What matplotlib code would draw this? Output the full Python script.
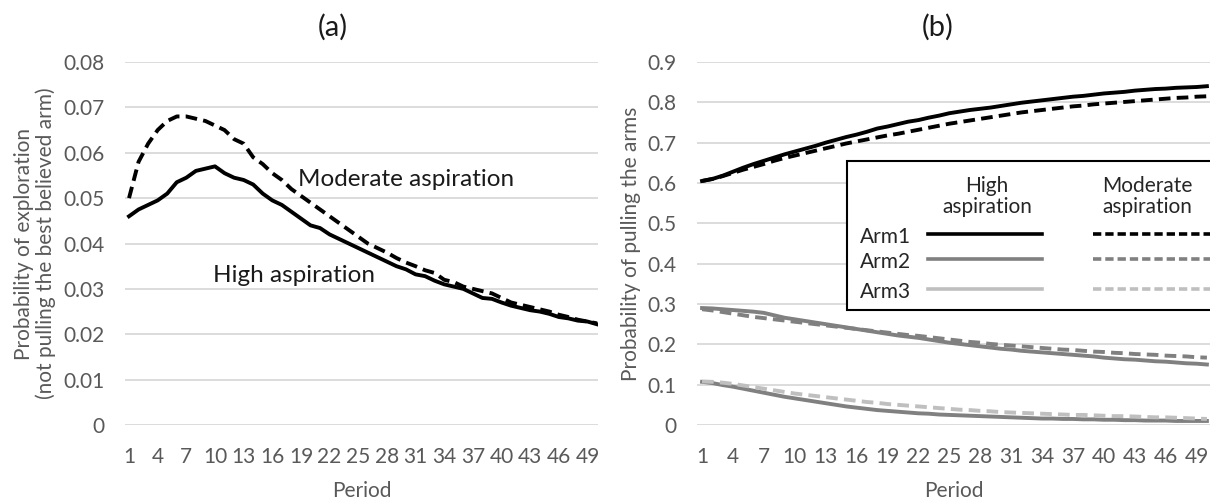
import matplotlib
matplotlib.use("Agg")
import matplotlib.pyplot as plt
from matplotlib.lines import Line2D
from matplotlib.patches import Rectangle

plt.rcParams['font.family'] = ['Lato', 'DejaVu Sans']

periods = list(range(1, 51))
xtick_labels = list(range(1, 50, 3))

# Panel (a): probability of exploration
explore_high = [0.046, 0.0475, 0.0485, 0.0495, 0.051, 0.0535, 0.0545, 0.056, 0.0565, 0.057,
                0.0555, 0.0545, 0.054, 0.053, 0.051, 0.0495, 0.0485, 0.047, 0.0455, 0.044,
                0.0434, 0.042, 0.041, 0.040, 0.039, 0.038, 0.037, 0.036, 0.035, 0.0343,
                0.0332, 0.0328, 0.0318, 0.031, 0.0305, 0.030, 0.029, 0.028, 0.0278, 0.027,
                0.0263, 0.0258, 0.0253, 0.025, 0.0245, 0.0238, 0.0235, 0.023, 0.0228, 0.0222]
explore_moderate = [0.050, 0.058, 0.062, 0.065, 0.067, 0.068, 0.068, 0.0675, 0.067, 0.066,
                    0.065, 0.063, 0.062, 0.059, 0.0575, 0.0555, 0.054, 0.052, 0.0505, 0.049,
                    0.0475, 0.046, 0.0445, 0.043, 0.0415, 0.040, 0.039, 0.038, 0.0368, 0.0358,
                    0.035, 0.0341, 0.0335, 0.032, 0.0315, 0.0305, 0.030, 0.0295, 0.029, 0.028,
                    0.027, 0.0265, 0.026, 0.0255, 0.025, 0.0243, 0.0238, 0.0232, 0.0228, 0.0224]

# Panel (b): probability of pulling the arms
arm1_high = [0.605, 0.610, 0.618, 0.628, 0.638, 0.647, 0.655, 0.663, 0.671, 0.678,
             0.685, 0.692, 0.700, 0.707, 0.714, 0.720, 0.727, 0.735, 0.740, 0.746,
             0.752, 0.756, 0.762, 0.767, 0.773, 0.777, 0.781, 0.784, 0.787, 0.791,
             0.795, 0.799, 0.802, 0.805, 0.808, 0.811, 0.814, 0.816, 0.819, 0.822,
             0.824, 0.826, 0.829, 0.831, 0.833, 0.834, 0.836, 0.837, 0.838, 0.840]
arm1_moderate = [0.605, 0.610, 0.617, 0.625, 0.633, 0.640, 0.647, 0.655, 0.662, 0.668,
                 0.674, 0.680, 0.686, 0.692, 0.698, 0.703, 0.708, 0.713, 0.718, 0.722,
                 0.727, 0.732, 0.737, 0.742, 0.747, 0.751, 0.755, 0.759, 0.763, 0.767,
                 0.771, 0.775, 0.778, 0.781, 0.784, 0.787, 0.790, 0.792, 0.795, 0.797,
                 0.799, 0.801, 0.803, 0.805, 0.807, 0.809, 0.811, 0.812, 0.814, 0.815]
arm2_high = [0.290, 0.289, 0.287, 0.285, 0.283, 0.281, 0.278, 0.272, 0.266, 0.262,
             0.258, 0.254, 0.250, 0.246, 0.242, 0.238, 0.234, 0.230, 0.226, 0.222,
             0.219, 0.216, 0.212, 0.208, 0.204, 0.201, 0.198, 0.195, 0.192, 0.189,
             0.187, 0.184, 0.182, 0.180, 0.178, 0.176, 0.174, 0.172, 0.170, 0.167,
             0.165, 0.163, 0.162, 0.160, 0.158, 0.157, 0.155, 0.153, 0.152, 0.150]
arm2_moderate = [0.287, 0.284, 0.280, 0.276, 0.272, 0.268, 0.265, 0.262, 0.259, 0.256,
                 0.253, 0.250, 0.247, 0.244, 0.241, 0.238, 0.235, 0.232, 0.229, 0.226,
                 0.223, 0.221, 0.218, 0.215, 0.212, 0.209, 0.206, 0.204, 0.201, 0.199,
                 0.197, 0.195, 0.193, 0.191, 0.189, 0.187, 0.186, 0.184, 0.182, 0.181,
                 0.179, 0.178, 0.176, 0.175, 0.174, 0.172, 0.171, 0.170, 0.168, 0.167]
arm3_high = [0.107, 0.104, 0.099, 0.095, 0.090, 0.085, 0.080, 0.075, 0.070, 0.066,
             0.062, 0.058, 0.054, 0.050, 0.046, 0.043, 0.040, 0.037, 0.035, 0.033,
             0.031, 0.029, 0.028, 0.026, 0.025, 0.024, 0.023, 0.022, 0.021, 0.020,
             0.019, 0.018, 0.017, 0.016, 0.016, 0.015, 0.015, 0.014, 0.014, 0.013,
             0.013, 0.012, 0.012, 0.011, 0.011, 0.011, 0.010, 0.010, 0.010, 0.010]
arm3_moderate = [0.108, 0.107, 0.105, 0.102, 0.098, 0.094, 0.090, 0.086, 0.082, 0.078,
                 0.075, 0.072, 0.069, 0.066, 0.063, 0.060, 0.057, 0.055, 0.052, 0.050,
                 0.048, 0.046, 0.044, 0.042, 0.040, 0.038, 0.037, 0.035, 0.034, 0.032,
                 0.031, 0.030, 0.029, 0.028, 0.027, 0.026, 0.025, 0.025, 0.024, 0.023,
                 0.022, 0.022, 0.021, 0.020, 0.019, 0.019, 0.018, 0.017, 0.016, 0.015]

GRID = '#d9d9d9'
TXT = '#595959'
BLACK = '#000000'
GRAY = '#808080'
LGRAY = '#bfbfbf'
DASH = (0, (3.0, 1.6))
LW = 2.8

fig = plt.figure(figsize=(12.10, 4.99), dpi=100)
ax1 = fig.add_axes([125/1210, 74/499, 473/1210, 363/499])
ax2 = fig.add_axes([697/1210, 74/499, 513/1210, 363/499])

def style(ax, ylim, yticks, yfmt, xlim):
    ax.set_xlim(*xlim)
    ax.set_ylim(*ylim)
    ax.set_yticks(yticks)
    ax.set_yticklabels([yfmt(v) for v in yticks])
    ax.set_xticks(xtick_labels)
    ax.set_xticklabels([str(v) for v in xtick_labels])
    for s in ax.spines.values():
        s.set_visible(False)
    ax.grid(axis='y', color=GRID, linewidth=1.3)
    ax.set_axisbelow(True)
    ax.tick_params(axis='both', length=0, labelsize=15, colors=TXT)
    ax.tick_params(axis='x', pad=16)
    ax.tick_params(axis='y', pad=15)
    ax.set_xlabel('Period', fontsize=15, color=TXT, labelpad=10)

# Panel (a)
style(ax1, (0, 0.08), [0, 0.01, 0.02, 0.03, 0.04, 0.05, 0.06, 0.07, 0.08],
      lambda v: '0' if v == 0 else f'{v:.2f}', (0.58, 50.1))
ax1.plot(periods, explore_moderate, color=BLACK, lw=LW, linestyle=DASH)
ax1.plot(periods, explore_high, color=BLACK, lw=LW)
ax1.text(18.7, 0.054, 'Moderate aspiration', fontsize=17.5, color='#1a1a1a', ha='left', va='center')
ax1.text(9.8, 0.033, 'High aspiration', fontsize=17.5, color='#1a1a1a', ha='left', va='center')
ax1.set_ylabel('Probability of exploration\n(not pulling the best believed arm)',
               fontsize=15, color=TXT, labelpad=5, linespacing=1.1)

# Panel (b)
style(ax2, (0, 0.9), [0, 0.1, 0.2, 0.3, 0.4, 0.5, 0.6, 0.7, 0.8, 0.9],
      lambda v: '0' if v == 0 else f'{v:.1f}', (0.51, 50.3))
ax2.plot(periods, arm1_high, color=BLACK, lw=LW)
ax2.plot(periods, arm1_moderate, color=BLACK, lw=LW, linestyle=DASH)
ax2.plot(periods, arm2_high, color=GRAY, lw=LW)
ax2.plot(periods, arm2_moderate, color=GRAY, lw=LW, linestyle=DASH)
ax2.plot(periods, arm3_high, color=GRAY, lw=LW)
ax2.plot(periods, arm3_moderate, color=LGRAY, lw=LW, linestyle=DASH)
ax2.set_ylabel('Probability of pulling the arms', fontsize=15, color=TXT, labelpad=4)

# Custom legend table
box = Rectangle((0.292, 0.317), 0.72, 0.41, transform=ax2.transAxes, fill=True,
                facecolor='white', edgecolor='black', linewidth=1.5, clip_on=False, zorder=5)
ax2.add_patch(box)
ax2.text(0.565, 0.630, 'High\naspiration', transform=ax2.transAxes, ha='center', va='center',
         fontsize=15, color='#262626', zorder=6, linespacing=1.05)
ax2.text(0.877, 0.630, 'Moderate\naspiration', transform=ax2.transAxes, ha='center', va='center',
         fontsize=15, color='#262626', zorder=6, linespacing=1.05)
leg_rows = [('Arm1', BLACK, BLACK, 0.527), ('Arm2', GRAY, GRAY, 0.458), ('Arm3', LGRAY, LGRAY, 0.375)]
for name, c_solid, c_dash, yy in leg_rows:
    ax2.text(0.318, yy - 0.008, name, transform=ax2.transAxes, ha='left', va='center',
             fontsize=15, color='#262626', zorder=6)
    ax2.add_line(Line2D([0.450, 0.672], [yy, yy], transform=ax2.transAxes, color=c_solid,
                        lw=2.6, zorder=6, clip_on=False))
    ax2.add_line(Line2D([0.772, 1.0], [yy, yy], transform=ax2.transAxes, color=c_dash,
                        lw=2.6, linestyle=(0, (2.3, 1.1)), zorder=6, clip_on=False))

fig.text(333/1210, 1 - 27/499, '(a)', fontsize=21, color='#1a1a1a', ha='center', va='center')
fig.text(938/1210, 1 - 27/499, '(b)', fontsize=21, color='#1a1a1a', ha='center', va='center')

fig.savefig('out.png', dpi=100)
